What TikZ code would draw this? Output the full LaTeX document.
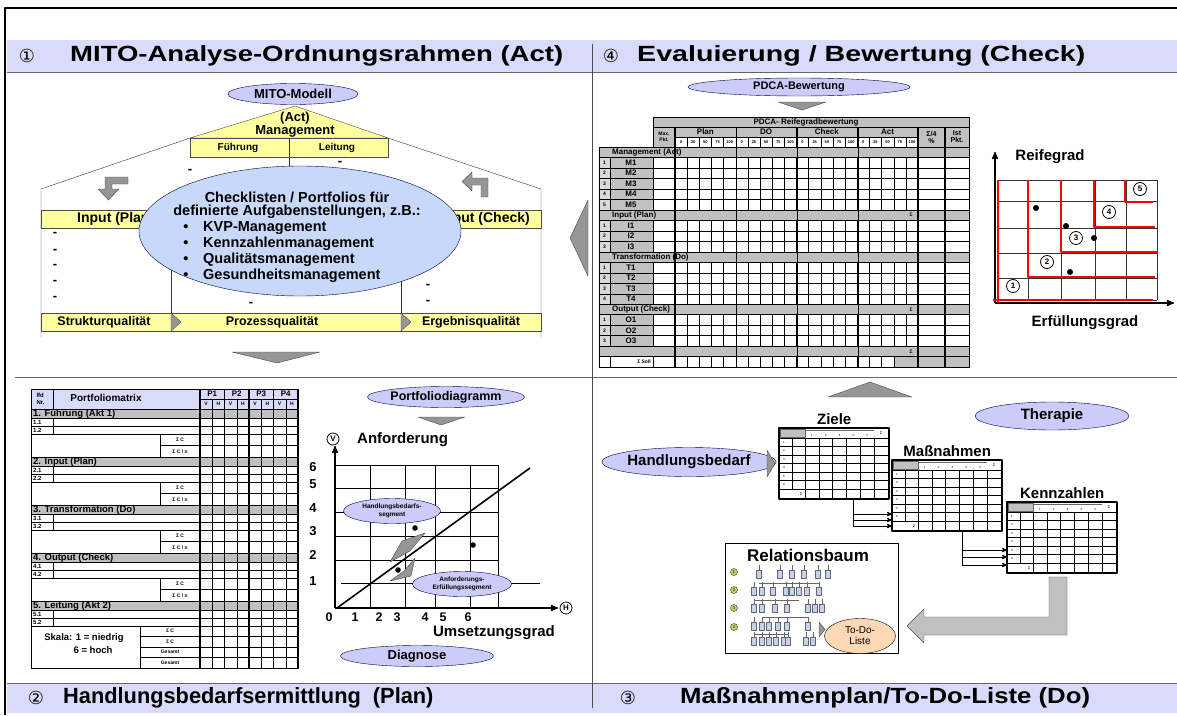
\documentclass[tikz,border=0pt]{standalone}
\usepackage{fontspec}
\usepackage{graphicx}
\setmainfont{Liberation Sans}
\newfontfamily\symfont{DejaVu Sans}
\usetikzlibrary{arrows,shapes.geometric,positioning}
\definecolor{bandlila}{RGB}{218,218,250}
\definecolor{ovallila}{RGB}{204,204,250}
\definecolor{ovalblau}{RGB}{200,216,248}
\definecolor{mitogelb}{RGB}{255,255,160}
\definecolor{tabgrau}{RGB}{192,192,192}
\definecolor{pfeilgrau}{RGB}{150,150,150}
\definecolor{pfirsich}{RGB}{252,216,182}
\definecolor{baumblau}{RGB}{196,210,238}
\definecolor{reifrot}{RGB}{255,0,0}

\begin{document}
\begin{tikzpicture}[x=1pt,y=-1pt,>=stealth',font=\bfseries,line join=round]
  \tikzstyle{oval}=[ellipse,draw=black!70!blue,fill=ovallila,inner sep=0pt]
  \tikzstyle{gelb}=[draw=black!70,fill=mitogelb]
  \tikzstyle{grau}=[draw=black,fill=tabgrau]
  \tikzstyle{zelle}=[draw=black,line width=0.4pt]
  \tikzstyle{pfeil}=[draw=black!70,fill=pfeilgrau]
  \tikzstyle{titel}=[anchor=west,inner sep=0pt,font=\bfseries\fontsize{22}{24}\selectfont]
  \tikzstyle{ziffer}=[inner sep=0pt,font=\symfont\fontsize{18}{19}\selectfont]
  \tikzstyle{mini}=[inner sep=0pt,font=\bfseries\fontsize{5}{6}\selectfont]
  \tikzstyle{klein}=[inner sep=0pt,font=\bfseries\fontsize{8}{9}\selectfont]
  \tikzstyle{mittel}=[inner sep=0pt,font=\bfseries\fontsize{13}{14}\selectfont]
  \tikzstyle{gross}=[inner sep=0pt,font=\bfseries\fontsize{15}{16}\selectfont]
  \tikzstyle{kreis}=[circle,draw,thick,inner sep=0pt,minimum size=13pt,font=\bfseries\fontsize{8}{9}\selectfont]

  \useasboundingbox (0,0) rectangle (1177,715);

  % Rahmen und Kopfzeilen
  \fill[bandlila] (7,40) rectangle (1177,72);
  \fill[bandlila] (7,683) rectangle (1177,713);
  \draw[black!60] (7,72) -- (1177,72) (15,377) -- (1177,377) (7,683) -- (1177,683);
  \draw[black!70] (592,44) -- (592,708);
  \draw[line width=2pt] (5,715) -- (5,8) -- (1177,8);
  \node[ziffer] (z1) at (27,56) {①};
  \node[titel] (t1) at (70,56) {\scalebox{1.25}[1]{MITO-Analyse-Ordnungsrahmen (Act)}};
  \node[ziffer] (z4) at (611,56) {④};
  \node[titel] (t4) at (637,56) {\scalebox{1.3}[1]{Evaluierung / Bewertung (Check)}};
  \node[ziffer] (z2) at (36,698) {②};
  \node[titel] (t2) at (63,698) {\scalebox{0.99}[1]{Handlungsbedarfsermittlung\ \ (Plan)}};
  \node[ziffer] (z3) at (628,698) {③};
  \node[titel] (t3) at (680,698) {\scalebox{1.17}[1]{Maßnahmenplan/To-Do-Liste (Do)}};

  % (1) MITO-Modell
  \draw[black!80] (190,138) -- (41,189) -- (41,337);
  \draw[black!80] (388,138) -- (541,189) -- (541,337);
  \draw[black!80] (171,228) -- (171,313) (401,228) -- (401,313) (289,157) -- (289,176);
  \draw[gelb] (190,138) -- (295,106) -- (388,138) -- cycle;
  \node[oval,minimum width=130pt,minimum height=21pt,mittel] (mito) at (293,94) {MITO-Modell};
  \node[mittel] (act) at (295,118) {(Act)};
  \node[mittel] (mgmt) at (295,131) {Management};
  \draw[gelb] (190,138) rectangle (388,157);
  \draw[black!80] (289,138) -- (289,157);
  \node[font=\bfseries\fontsize{10}{11}\selectfont] (fuehr) at (238,147.5) {Führung};
  \node[font=\bfseries\fontsize{10}{11}\selectfont] (leit) at (337,147.5) {Leitung};
  \draw[gelb] (41,210) rectangle (541,228);
  \node[font=\bfseries\fontsize{14}{15}\selectfont,inner sep=0pt,anchor=west] (inp) at (77,219) {Input (Plan)};
  \node[font=\bfseries\fontsize{14}{15}\selectfont,inner sep=0pt,anchor=east] (outp) at (530,219) {Output (Check)};
  \draw[gelb] (41,313) rectangle (541,331);
  \draw[black!80] (171,313) -- (171,331) (401,313) -- (401,331);
  \filldraw[pfeil] (171,313) -- (181,322) -- (171,331) -- cycle;
  \filldraw[pfeil] (401,313) -- (411,322) -- (401,331) -- cycle;
  \node[font=\bfseries\fontsize{12.5}{13}\selectfont] (struk) at (104,322) {Strukturqualität};
  \node[font=\bfseries\fontsize{12.5}{13}\selectfont] (proz) at (272,322) {Prozessqualität};
  \node[font=\bfseries\fontsize{12.5}{13}\selectfont] (ergeb) at (471,322) {Ergebnisqualität};
  \foreach \xx/\yy in {190/171,190/186,340/163,55/234,55/251,55/266,55/282,55/298,428/286,428/302,251/304}
    \node[mittel] at (\xx,\yy) {-};
  \filldraw[pfeil] (128,177) -- (105,177) -- (105,189) -- (98,189) -- (108.5,200) -- (119,189) -- (112,189) -- (112,184) -- (128,184) -- cycle;
  \filldraw[pfeil] (488,197) -- (488,178) -- (472,178) -- (472,172) -- (462,181.5) -- (472,191) -- (472,185) -- (481,185) -- (481,197) -- cycle;
  \node[ellipse,draw=black!70!blue,fill=ovalblau,minimum width=322pt,minimum height=130pt] (checkl) at (300,231) {};
  \tikzstyle{ctext}=[inner sep=0pt,font=\bfseries\fontsize{14.5}{15}\selectfont]
  \node[ctext] (c1) at (297,197) {Checklisten / Portfolios für};
  \node[ctext] (c2) at (297,212) {definierte Aufgabenstellungen, z.B.:};
  \foreach \t/\yy in {KVP-Management/228,Kennzahlenmanagement/244,Qualitätsmanagement/260,Gesundheitsmanagement/276} {
    \node[ctext] at (186,\yy) {\textbullet};
    \node[ctext,anchor=west] at (203,\yy) {\t};
  }
  \filldraw[pfeil] (232,352) -- (320,352) -- (277,363) -- cycle;

  % (4) PDCA-Bewertung
  \node[oval,minimum width=222pt,minimum height=18pt,font=\bfseries\fontsize{11}{12}\selectfont] (pdca) at (799,87) {PDCA-Bewertung};
  \filldraw[pfeil] (778,102) -- (826,102) -- (802,110) -- cycle;
  \filldraw[pfeil] (588,200) -- (570,238) -- (588,276) -- cycle;
  \foreach \k in {0,...,21}
    \draw[zelle] (599,{147+\k*10.48}) -- (969,{147+\k*10.48});
  \foreach \xx in {599,610,653,969}
    \draw[zelle] (\xx,147) -- (\xx,367);
  \foreach \i in {0,...,20}
    \draw[zelle] ({675+\i*12.15},137) -- ({675+\i*12.15},367);
  \filldraw[grau] (653,117) rectangle (969,127);
  \node[klein] (pdcat) at (806,122) {PDCA- Reifegradbewertung};
  \filldraw[grau] (653,127) rectangle (675,147);
  \node[mini,align=center] at (664,137) {Max.\\Pkt.};
  \foreach \nm [count=\i from 0] in {Plan,DO,Check,Act} {
    \filldraw[grau] ({675+\i*60.75},127) rectangle ({675+(\i+1)*60.75},137);
    \node[klein] at ({675+(\i+0.5)*60.75},132) {\nm};
    \foreach \v [count=\j from 0] in {0,25,50,75,100}
      \node[font=\bfseries\fontsize{4}{4}\selectfont,inner sep=0pt] at ({675+(\i*5+\j+0.5)*12.15},142) {\v};
  }
  \filldraw[grau] (918,127) rectangle (945,147);
  \node[font=\bfseries\fontsize{7}{7}\selectfont,align=center] at (931.5,137) {Σ/4\\\%};
  \filldraw[grau] (945,127) rectangle (969,147);
  \node[font=\bfseries\fontsize{7}{7}\selectfont,align=center] at (957,137) {Ist\\Pkt.};
  \foreach \k/\lab/\sig in {0/Management (Act)/,6/Input (Plan)/Σ,10/Transformation (Do)/,15/Output (Check)/Σ,19//Σ} {
    \pgfmathsetmacro\ya{147+\k*10.48}
    \pgfmathsetmacro\yb{\ya+10.48}
    \filldraw[grau] (599,\ya) rectangle (918,\yb);
    \filldraw[grau] (918,\ya) rectangle (969,\yb);
    \node[klein,anchor=west] at (612,{\ya+5.24}) {\lab};
    \node[mini] at (911,{\ya+5.24}) {\sig};
  }
  \foreach \k/\nr/\lab in {1/1/M1,2/2/M2,3/3/M3,4/4/M4,5/5/M5,7/1/I1,8/2/I2,9/3/I3,11/1/T1,12/2/T2,13/3/T3,14/4/T4,16/1/O1,17/2/O2,18/3/O3} {
    \pgfmathsetmacro\ya{147+\k*10.48}
    \pgfmathsetmacro\yb{\ya+10.48}
    \filldraw[draw=black,fill=tabgrau!60] (599,\ya) rectangle (610,\yb);
    \filldraw[grau] (610,\ya) rectangle (653,\yb);
    \node[mini] at (604.5,{\ya+5.24}) {\nr};
    \node[klein] at (631,{\ya+5.24}) {\lab};
  }
  \filldraw[grau] (894,356.6) rectangle (969,367.1);
  \node[mini,anchor=east] (soll) at (651,361.8) {Σ Soll};
  \foreach \xx in {675,736.75,797.5,858.25,918,945}
    \draw[line width=1.3pt] (\xx,127) -- (\xx,367);
  \draw[line width=0.8pt] (599,147) rectangle (969,367);

  % (4) Reifegrad-Diagramm
  \foreach \xx in {998,1028,1061,1095,1126,1157}
    \draw[black!80,line width=0.6pt] (\xx,180) -- (\xx,300);
  \foreach \yy in {180,201,228,253,278,300}
    \draw[black!80,line width=0.6pt] (998,\yy) -- (1157,\yy);
  \draw[line width=1.5pt,->] (995,303) -- (995,152);
  \draw[line width=1.5pt,->] (995,303) -- (1174,303);
  \draw[reifrot,line width=1.8pt] (998,180) -- (998,303) (993,300) -- (1153,300);
  \draw[reifrot,line width=1.8pt] (1028,180) -- (1028,277) -- (1155,277);
  \draw[reifrot,line width=1.8pt] (1061,180) -- (1061,252) -- (1158,252);
  \draw[reifrot,line width=1.8pt] (1094,180) -- (1094,227) -- (1155,227);
  \draw[reifrot,line width=1.8pt] (1125,180) -- (1125,202) -- (1153,202);
  \foreach \n/\xx/\yy in {1/1013/286,2/1047/262,3/1076/238,4/1109/212,5/1140/189}
    \node[kreis,fill=white] (r\n) at (\xx,\yy) {\n};
  \foreach \xx/\yy in {1036/208,1066/226,1094/238,1070/272}
    \fill (\xx,\yy) circle (3);
  \node[gross] (reife) at (1050,157) {Reifegrad};
  \node[gross] (erfue) at (1085,323) {Erfüllungsgrad};

  % (2) Portfoliomatrix
  \filldraw[draw=black,fill=bandlila] (31,389) rectangle (298,409);
  \draw (53,389) -- (53,409) (200,399) -- (298,399);
  \node[font=\bfseries\fontsize{6}{6.5}\selectfont,align=left,anchor=west] (lfd) at (33,399) {lfd\\Nr.};
  \node[font=\bfseries\fontsize{10}{11}\selectfont] (pmat) at (106,398) {Portfoliomatrix};
  \foreach \p/\q in {0/1,1/2,2/3,3/4} {
    \node[klein] at ({200+(\p+0.5)*24.5},394) {P\q};
    \node[mini] at ({200+\p*24.5+6.1},404) {V};
    \node[mini] at ({200+\p*24.5+18.4},404) {H};
  }
  \foreach \s/\lab in {1/Führung (Akt 1),2/Input (Plan),3/Transformation (Do),4/Output (Check),5/Leitung (Akt 2)} {
    \pgfmathsetmacro\b{409+(\s-1)*48}
    \filldraw[grau] (31,\b) rectangle (298,{\b+9});
    \node[font=\bfseries\fontsize{9.5}{10}\selectfont,inner sep=0pt,anchor=west] at (33,{\b+4.8}) {\s. \lab};
    \draw (31,{\b+9}) rectangle (53,{\b+17}) (53,{\b+9}) rectangle (200,{\b+17});
    \draw (31,{\b+17}) rectangle (53,{\b+25}) (53,{\b+17}) rectangle (200,{\b+25});
    \node[font=\bfseries\fontsize{6}{6}\selectfont,inner sep=0pt,anchor=west] at (33,{\b+13}) {\s.1};
    \node[font=\bfseries\fontsize{6}{6}\selectfont,inner sep=0pt,anchor=west] at (33,{\b+21}) {\s.2};
  }
  \foreach \s in {1,...,4} {
    \pgfmathsetmacro\b{409+(\s-1)*48}
    \draw (31,{\b+25}) rectangle (160,{\b+48});
    \draw (160,{\b+25}) rectangle (200,{\b+36.5}) (160,{\b+36.5}) rectangle (200,{\b+48});
    \node[mini] at (180,{\b+30.75}) {Σ C};
    \node[mini] at (180,{\b+42.25}) {Σ C / n};
    \foreach \d in {9,17,25,36.5,48}
      \draw (200,{\b+\d}) -- (298,{\b+\d});
  }
  \draw (31,626) rectangle (140,668);
  \foreach \ya/\lab in {626/Σ C,636.5/Σ C / n,647/Gesamt,657.5/Gesamt / n} {
    \draw (140,\ya) rectangle (200,{\ya+10.5});
    \node[mini] at (170,{\ya+5.25}) {\lab};
  }
  \foreach \yy in {610,618,626,636.5,647,657.5,668}
    \draw (200,\yy) -- (298,\yy);
  \node[font=\bfseries\fontsize{9.5}{10}\selectfont] (skala) at (84,638) {Skala: 1 = niedrig};
  \node[font=\bfseries\fontsize{9.5}{10}\selectfont] (hoch) at (93,650) {6 = hoch};
  \foreach \i in {0,...,8}
    \draw ({200+\i*12.25},399) -- ({200+\i*12.25},668);
  \foreach \xx in {200,224.5,249,273.5,298}
    \draw[line width=1.1pt] (\xx,389) -- (\xx,668);
  \draw[line width=0.8pt] (31,389) rectangle (298,668);

  % (2) Portfoliodiagramm
  \node[oval,minimum width=145pt,minimum height=21pt,font=\bfseries\fontsize{12.5}{13}\selectfont] (pdiag) at (446,397) {Portfoliodiagramm};
  \filldraw[pfeil] (418,417) -- (465,417) -- (441,425) -- cycle;
  \foreach \xx in {370,405,435,470,498}
    \draw[line width=0.6pt] (\xx,465) -- (\xx,608);
  \foreach \yy in {465,488,512,536,560}
    \draw[line width=0.6pt] (335,\yy) -- (498,\yy);
  \draw[line width=0.6pt] (341,583) -- (540,583);
  \draw[line width=1.5pt,->] (335,608) -- (335,446);
  \draw[line width=1.5pt,->] (335,608) -- (558,608);
  \node[kreis,minimum size=12pt] (vkreis) at (333,439) {V};
  \node[kreis,minimum size=12pt] (hkreis) at (566,608) {H};
  \node[gross,anchor=west] (anf) at (357,440) {Anforderung};
  \foreach \n/\yy in {6/467,5/484,4/508,3/531,2/555,1/581}
    \node[mittel] at (313,\yy) {\n};
  \foreach \n/\xx in {0/329,1/355,2/379,3/397,4/425,5/443,6/468}
    \node[font=\bfseries\fontsize{12.5}{13}\selectfont,inner sep=0pt] at (\xx,617) {\n};
  \node[gross] (umsetz) at (494,633) {Umsetzungsgrad};
  \draw[line width=1.6pt] (337,608) -- (530,468);
  \foreach \xx/\yy in {415/528,473/545,398/570}
    \fill (\xx,\yy) circle (2.8);
  \filldraw[pfeil] (390,562) -- (402,541) -- (425,533) -- (410,551) -- cycle;
  \filldraw[pfeil] (390,581) -- (404,571) -- (415,558) -- (411,576) -- cycle;
  \node[oval,minimum width=97pt,minimum height=25pt,align=center,font=\bfseries\fontsize{6.5}{7.5}\selectfont] (hbseg) at (392,511) {Handlungsbedarfs-\\segment};
  \node[oval,minimum width=99pt,minimum height=25pt,align=center,font=\bfseries\fontsize{6.5}{7.5}\selectfont] (aeseg) at (462,584) {Anforderungs-\\Erfüllungssegment};
  \node[oval,minimum width=153pt,minimum height=21pt,font=\bfseries\fontsize{13}{14}\selectfont] (diag) at (417,656) {Diagnose};

  % (3) Massnahmenplan
  \filldraw[pfeil] (828,397) -- (870,382) -- (912,397) -- cycle;
  \node[oval,minimum width=154pt,minimum height=28pt,gross] (thera) at (1052,416) {Therapie};
  \node[oval,minimum width=152pt,minimum height=29pt,gross] (handl) at (689,462) {Handlungsbedarf};
  \filldraw[pfeil] (767,450) -- (775,463.5) -- (767,477) -- cycle;
  \foreach \nm/\xx/\yy in {ziele/779/428,massn/892/460,kennz/1007/502} {
    \node[minimum width=110pt,minimum height=71pt,inner sep=0pt,anchor=north west] (\nm) at (\xx,\yy) {};
    \begin{scope}[shift={(\nm.north west)}]
      \fill[white] (0,0) rectangle (110,71);
      \filldraw[fill=tabgrau,draw=black!60] (1,1) rectangle (26,9);
      \draw[line width=1.5pt,black!60] (26,2.5) -- (95,2.5);
      \foreach \c in {1,...,5}
        \node[font=\fontsize{3}{3}\selectfont,inner sep=0pt] at ({26+(\c-0.5)*13.8},7) {\c};
      \node[font=\fontsize{4}{4}\selectfont,inner sep=0pt] at (102,5) {Σ};
      \foreach \r in {0,...,6}
        \draw[line width=0.5pt] (0,{10+\r*8.5}) -- (110,{10+\r*8.5});
      \foreach \c in {13,26,39.8,53.6,67.4,81.2,95}
        \draw[line width=0.5pt] (\c,10) -- (\c,71);
      \foreach \r in {1,...,6}
        \node[font=\fontsize{3}{3}\selectfont,inner sep=0pt] at (5,{10+(\r-0.5)*8.5}) {\r};
      \fill[white] (1,62) rectangle (25.7,70);
      \node[font=\fontsize{4}{4}\selectfont,inner sep=0pt] at (22,66.5) {Σ};
      \draw[line width=2pt] (0,0) rectangle (110,71);
    \end{scope}
  }
  \node[gross,above=3pt of ziele] (zlab) {Ziele};
  \node[gross,above=3pt of massn] (mlab) {Maßnahmen};
  \node[gross,above=3pt of kennz] (klab) {Kennzahlen};
  \coordinate (zs) at (853,499);
  \coordinate (ms) at (962,532);
  \draw (zs) -- (853,526);
  \foreach \yy in {514,520,526} {
    \coordinate (za) at (853,\yy);
    \draw[->,thick] (za) -- (za -| massn.west);
  }
  \draw (ms) -- (962,565);
  \foreach \yy in {550,557,565} {
    \coordinate (ma) at (962,\yy);
    \draw[->,thick] (ma) -- (ma -| kennz.west);
  }
  \filldraw[draw=black!70,fill=tabgrau] (1049,577) -- (1067,577) -- (1067,635) -- (924,635) -- (924,643) -- (907,626) -- (924,609) -- (924,617) -- (1049,617) -- cycle;
  \node[draw,thick,minimum width=173pt,minimum height=110pt,inner sep=0pt,anchor=north west] (rbaum) at (725,543) {};
  \node[font=\bfseries\fontsize{17}{18}\selectfont,inner sep=0pt] (rtitel) at (808,555) {Relationsbaum};
  \foreach \n/\yy in {1/572,2/590,3/608,4/627}
    \node[circle,draw=black!80,fill=mitogelb!60!olive,inner sep=0pt,minimum size=7pt,font=\fontsize{4}{4}\selectfont] (b\n) at (734,\yy) {\n};
  \draw[black!60] (759,583) -- (819,583) (754,600) -- (799,600) (762,617) -- (808,617) (754,634) -- (788,634);
  \foreach \yy/\xs in {574/{759,780,792,804,818,828},591/{754,762,773,786,792,799,807,819},608/{754,762,775,787,808,815,822},626/{754,762,769,778,787,808},641/{754,762,769,776,784,788,806,813}}
    \foreach \xx in \xs {
      \draw[black!60] (\xx,{\yy-4}) -- (\xx,{\yy-9});
      \filldraw[draw=black!60,fill=baumblau] ({\xx-2.5},{\yy-4}) rectangle ({\xx+2.5},{\yy+4});
    }
  \filldraw[pfeil] (819,622) -- (825,629.5) -- (819,637) -- cycle;
  \node[ellipse,draw,fill=pfirsich,minimum width=71pt,minimum height=35pt,inner sep=0pt,align=center,font=\normalfont\fontsize{10}{11}\selectfont] (todo) at (860,636) {To-Do-\\Liste};
\end{tikzpicture}
\end{document}
